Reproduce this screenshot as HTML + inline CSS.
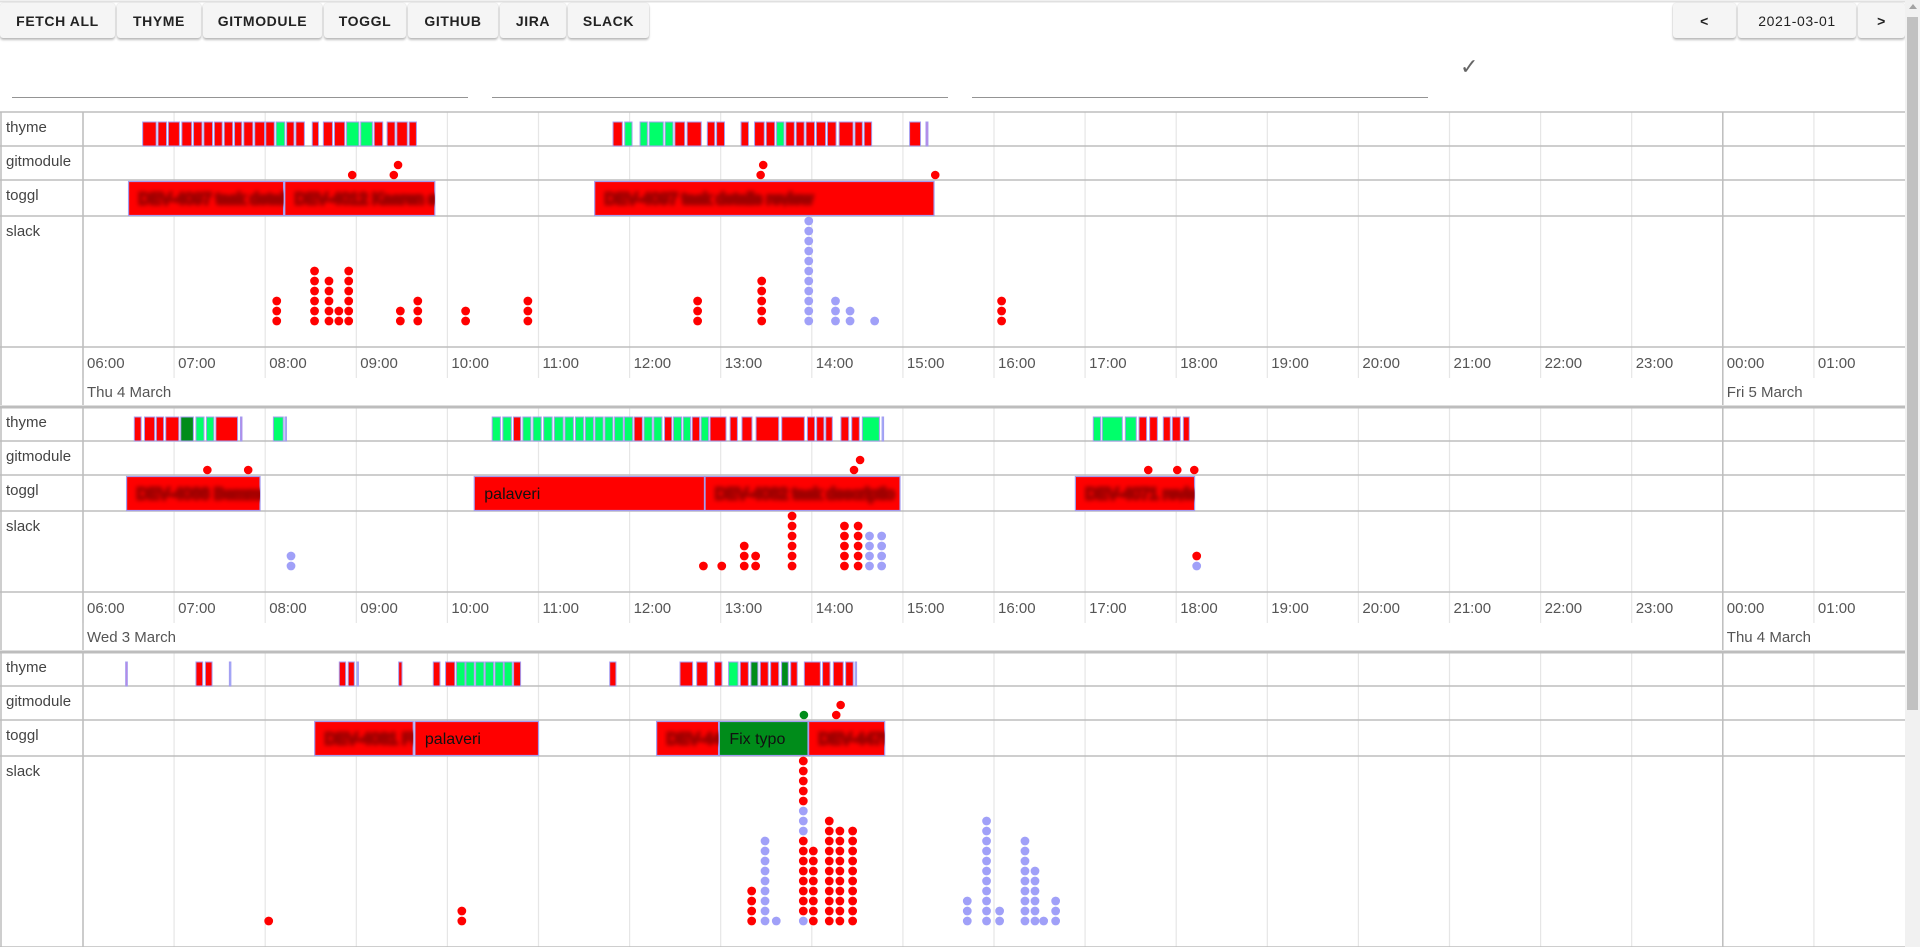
<!DOCTYPE html>
<html><head><meta charset="utf-8">
<style>
html,body{margin:0;padding:0;background:#fff;width:1920px;height:947px;overflow:hidden;font-family:"Liberation Sans",sans-serif;}
.btn{position:absolute;top:3px;height:35px;background:#f5f5f5;box-shadow:0 2px 2px rgba(0,0,0,0.25),0 0 1px rgba(0,0,0,0.2);border-radius:3px;font-size:14px;font-weight:bold;letter-spacing:0.6px;color:#222;display:flex;align-items:center;justify-content:center;}
.line{position:absolute;top:97px;height:1px;background:#949494;}
#chart{position:absolute;left:0;top:0;}
</style></head><body>
<div class="btn" style="left:0;width:115px">FETCH ALL</div>
<div class="btn" style="left:117px;width:84px">THYME</div>
<div class="btn" style="left:203px;width:119px">GITMODULE</div>
<div class="btn" style="left:324px;width:82px">TOGGL</div>
<div class="btn" style="left:408px;width:90px">GITHUB</div>
<div class="btn" style="left:500px;width:66px">JIRA</div>
<div class="btn" style="left:568px;width:81px">SLACK</div>
<div class="btn" style="left:1673px;width:63px">&lt;</div>
<div class="btn" style="left:1738px;width:118px;font-weight:normal">2021-03-01</div>
<div class="btn" style="left:1858px;width:47px">&gt;</div>
<div class="line" style="left:12px;width:456px"></div>
<div class="line" style="left:492px;width:456px"></div>
<div class="line" style="left:972px;width:456px"></div>
<div style="position:absolute;left:1460px;top:54px;font-size:22px;color:#666">✓</div>
<div style="position:absolute;left:1905px;top:0;width:15px;height:947px;background:#f1f1f1">
 <div style="position:absolute;left:2px;top:17px;width:11px;height:693px;background:#c1c1c1"></div>
 <div style="position:absolute;left:4px;top:4px;width:0;height:0;border-left:4px solid transparent;border-right:4px solid transparent;border-bottom:5px solid #a3a3a3"></div>
</div>
<svg id="chart" width="1905" height="947" xmlns="http://www.w3.org/2000/svg">
<defs><filter id="blur" x="-5%" y="-50%" width="110%" height="200%"><feGaussianBlur stdDeviation="2.2"/></filter></defs>
</svg>
<script>
// All times are minutes after 06:00 of each day block
const dayLabels = ["Thu 4 March","Wed 3 March","Tue 2 March"];
const nextDayLabels = ["Fri 5 March","Thu 4 March","Wed 3 March"];
const hourLabels = ["06:00","07:00","08:00","09:00","10:00","11:00","12:00","13:00","14:00","15:00","16:00","17:00","18:00","19:00","20:00","21:00","22:00","23:00","00:00","01:00"];

const thymeStart = [
 [39.3,49.4,56.2,65.1,72.8,79.6,86.5,93,99.8,105.9,113.1,120.4,127.2,134.1,140.2,151,158.3,165.6,173.6,182.9,191.8,200.3,206.7,214.8,349.1,356.8,366.9,372.9,383.4,389.8,397.9,411.2,417.3,433.4,442.3,450,456.8,462.9,469.7,476.2,483,490.3,498,508.4,514.5,544.4,555.2],
 [33.8,40.5,48.3,54.5,64.4,74.4,81.3,87.5,103.7,125.4,133,269.5,276.5,283.5,289.7,296.4,303.4,310.4,317.4,324.3,330.8,337.2,343.7,350.1,356.6,363,369.5,375.9,383,388.9,395.3,401.2,407.1,413,426.2,434,443.3,460.2,477.1,483.2,489.2,499.2,506.3,513.3,526.3,665.4,671.3,686.5,695.5,702.5,711.5,717.4,724.7],
 [28.1,74.4,80.6,96.4,168.8,174.7,180.4,207.9,230.7,238.8,246,252.2,258.6,264.9,271.3,277.4,283.6,346.9,393.2,404.2,416,425.2,432.9,439.9,446.1,452.9,460.1,466.1,475.1,487.1,494.2,502.3,508.5]
];
const thymeEnd = [
 [48.2,55,63.5,71.6,78.4,85.3,91.7,98.6,104.6,111.9,119.6,126,132.9,139,145.8,155.1,164.3,172.4,181.7,190.6,197.4,205.5,213.6,219.6,355.2,361.6,371.7,382.2,388.6,396.3,407.2,416.1,422.5,438.3,448.7,455.6,461.7,468.5,475,481.8,489.1,496,507.2,513.3,519.4,551.6,556.5],
 [38.3,47.2,53.1,63.1,72.7,79.7,86.2,101.8,104.7,131.9,134,274.9,282.1,288.3,295,301.8,309,316.3,323,329.7,336.2,342.6,349,355.8,362,368.4,374.9,381.3,387.8,394.2,400.1,406.1,412,423.5,431,440.6,458.2,475.1,481.9,488,493.5,504.3,511.3,524.5,526.9,670.2,684.5,693.7,700.5,707.6,716.1,722.7,728.6],
 [29.2,78.8,85,97.2,173,178.7,181.3,210.1,235.1,244.9,251.6,257.7,264.1,270.4,276.8,282.7,288.2,351,401.5,411.2,420.8,431.4,438.2,444.5,451.3,458.2,464.5,470.4,485.6,492,500.7,507.3,509.5]
];
const thymeColor = [
 "rrrrrrrrrrrrgrrrrrggrrrr" + "rggggrrrrrrrgrrrrrrrrrp",
 "rrrrdggrpgb" + "ggr" + "ggggggggggg" + "r" + "gg" + "r" + "gg" + "r" + "g" + "rrrrrrrrrr" + "g" + "b" + "ggg" + "rrrrr",
 "prrbrrbrrr" + "gggggg" + "rrrrr" + "g" + "r" + "d" + "rr" + "d" + "rrrrr" + "b"
];
const gitTimes = [
 [177.3,204.7,207.5,446.3,448,561.3],
 [81.9,108.8,507.8,511.8,701.6,720.7,731.9],
 [474.8,496.1,499]
];
const gitColor = ["rrrrrr","rrrrrrr","grr"];
const togglStart = [[30,132.9,337],[28.7,257.7,409.7,653.6],[152.6,218.6,377.8,419.1,477.9]];
const togglEnd = [[132.1,231.7,560.5],[116.6,409.3,538.1,732.1],[217.5,300,418.6,477.5,528]];
const togglText = [
 ["DEV-4097 task details","DEV-4012 Kaaren stuff","DEV-4097 task details review"],
 ["DEV-4066 Bemmm","palaveri","DEV-4082 task descriptio","DEV-4071 review"],
 ["DEV-4081 Fix","palaveri","DEV-449","Fix typo","DEV-4479"]
];
const togglBlurred = ["yyy","ynyy","ynyny"];
const togglColor = ["rrr","rrrr","rrrgr"];
const slackTimes = [
 [127.6,152.5,162,168.5,175,209,220.5,252,293,404.8,447,478,495.6,505.2,521.4,605],
 [137,408.6,420.7,435.5,443,467,501.5,510.5,518,526,733.5,733.5],
 [122.3,249.5,440.4,449.2,456.6,474.4,474.4,474.4,474.4,481,491.5,498.5,506.9,582.4,595.1,603.7,620.4,627,632.7,640.6]
];
const slackCounts = [
 [3,6,5,2,6,2,3,2,3,3,5,11,3,2,1,3],
 [2,1,1,3,2,6,5,5,4,4,1,1],
 [1,2,4,9,1,1,8,3,5,8,11,10,10,3,11,2,9,6,1,3]
];
const slackColor = ["rrrrrrrrrrrbbbbr","brrrrrrrbbbr","rrrbbbrbrrrrrbbbbbbb"];

const COLORS = {r:"#ff0000",g:"#00ff6a",d:"#008c1a",p:"#c080e0",b:"#9fb8ff"};
const DOT = {r:"#ff0000",g:"#008c1a",b:"#a0a0f8"};
const X0 = 83, HOUR_W = 91.1, RIGHT = 1905;
const svg = document.getElementById('chart');
const NS = "http://www.w3.org/2000/svg";
function xOf(m){ return X0 + m/60*HOUR_W; }
function mk(tag, attrs, parent){
  const e = document.createElementNS(NS, tag);
  for (const k in attrs) e.setAttribute(k, attrs[k]);
  (parent||svg).appendChild(e);
  return e;
}
function txt(x,y,s,size,fill,parent){
  const t = mk('text',{x:x,y:y,'font-size':size,fill:fill,'font-family':'Liberation Sans, sans-serif'},parent);
  t.textContent = s;
  return t;
}
mk('line',{x1:0,y1:1.5,x2:RIGHT,y2:1.5,stroke:'#e0e0e0','stroke-width':2});

let blockTop = 112;
const rowNames = ["thyme","gitmodule","toggl","slack"];
for (let d = 0; d < 3; d++) {
  const g = mk('g',{});
  
  
  const stackBase = {};
  const dots = [];
  let maxStack = 1;
  for (let i = 0; i < slackTimes[d].length; i++) {
    const t = slackTimes[d][i];
    const b = stackBase[t] || 0;
    for (let k = 0; k < slackCounts[d][i]; k++) dots.push({t:t, lvl:b+k, c:slackColor[d][i]});
    stackBase[t] = b + slackCounts[d][i];
    maxStack = Math.max(maxStack, stackBase[t]);
  }
  const rowH = [34, 34, 36, maxStack*10 + 21];
  const rowTop = [blockTop, blockTop+34, blockTop+68, blockTop+104];
  const axisTop = rowTop[3] + rowH[3];
  const blockBottom = axisTop + 58;
  for (let h = 0; h < hourLabels.length; h++) {
    const x = X0 + h*HOUR_W;
    const mid = hourLabels[h] === "00:00";
    const gl = mk('line',{x1:x,y1:blockTop,x2:x,y2:mid?blockBottom:axisTop+31,stroke:mid?'#bdbdbd':'#e6e6e6','stroke-width':mid?1.5:1.2},g);
    
    
    const lb = txt(x+4, axisTop+21, hourLabels[h], 15, '#555', g);
    
    
    if (mid) {
      const nd = txt(x+4, axisTop+50, nextDayLabels[d], 15, '#555', g);
      
      
    }
  }
  const dl = txt(X0+4, axisTop+50, dayLabels[d], 15, '#555', g);
  
  
  for (let r = 0; r < 4; r++) {
    const sep = mk('line',{x1:0,y1:rowTop[r]+rowH[r],x2:RIGHT,y2:rowTop[r]+rowH[r],stroke:'#bdbdbd','stroke-width':1.5},g);
    
    
    const rl = txt(6, rowTop[r]+20, rowNames[r], 15, '#444', g);
    
    
  }
  mk('line',{x1:0,y1:blockTop,x2:RIGHT,y2:blockTop,stroke:'#bdbdbd','stroke-width':d===0?1.5:3},g);
  mk('line',{x1:X0,y1:blockTop,x2:X0,y2:blockBottom,stroke:'#bdbdbd','stroke-width':1.5},g);
  mk('line',{x1:1,y1:blockTop,x2:1,y2:blockBottom,stroke:'#bdbdbd','stroke-width':1.5},g);
  for (let i = 0; i < thymeStart[d].length; i++) {
    const x1 = xOf(thymeStart[d][i]), x2 = xOf(thymeEnd[d][i]);
    const c = thymeColor[d][i] || 'r';
    const bar = mk('rect',{x:x1,y:rowTop[0]+10,width:Math.max(1.5,x2-x1),height:24,fill:COLORS[c],stroke:'#a49cf0','stroke-width':1},g);
    
    
  }
  let prevT = -1e9, prevL = -1;
  for (let i = 0; i < gitTimes[d].length; i++) {
    const t = gitTimes[d][i];
    const lvl = (t - prevT < 5.3) ? prevL + 1 : 0;
    prevT = t; prevL = lvl;
    const dot = mk('circle',{cx:xOf(t),cy:rowTop[1]+rowH[1]-5-lvl*10,r:4.3,fill:DOT[gitColor[d][i]]},g);
    
    
  }
  for (let i = 0; i < togglStart[d].length; i++) {
    const x1 = xOf(togglStart[d][i]), x2 = xOf(togglEnd[d][i]);
    const c = togglColor[d][i];
    const bar = mk('rect',{x:x1,y:rowTop[2]+1.5,width:x2-x1,height:rowH[2]-2,fill:c==='g'?'#008c1a':'#ff0000',stroke:'#a49cf0','stroke-width':1.2},g);
    
    
    const cp = mk('clipPath',{id:'cp'+d+'_'+i},g);
    mk('rect',{x:x1,y:rowTop[2],width:x2-x1,height:rowH[2]},cp);
    const blurred = togglBlurred[d][i] === 'y';
    const t = txt(x1+10, rowTop[2]+24, togglText[d][i], 16, blurred?'#a00000':'#111', g);
    t.setAttribute('clip-path','url(#cp'+d+'_'+i+')');
    if (blurred) {
      t.setAttribute('filter','url(#blur)');
      t.setAttribute('stroke','#a00000');
      t.setAttribute('stroke-width','3');
    }
    
    
  }
  const slackBottom = rowTop[3] + rowH[3];
  for (const p of dots) {
    const dot = mk('circle',{cx:xOf(p.t),cy:slackBottom-26-p.lvl*10,r:4.4,fill:DOT[p.c]},g);
    
    
  }
  blockTop = blockBottom + 2;
}
</script>
</body></html>
